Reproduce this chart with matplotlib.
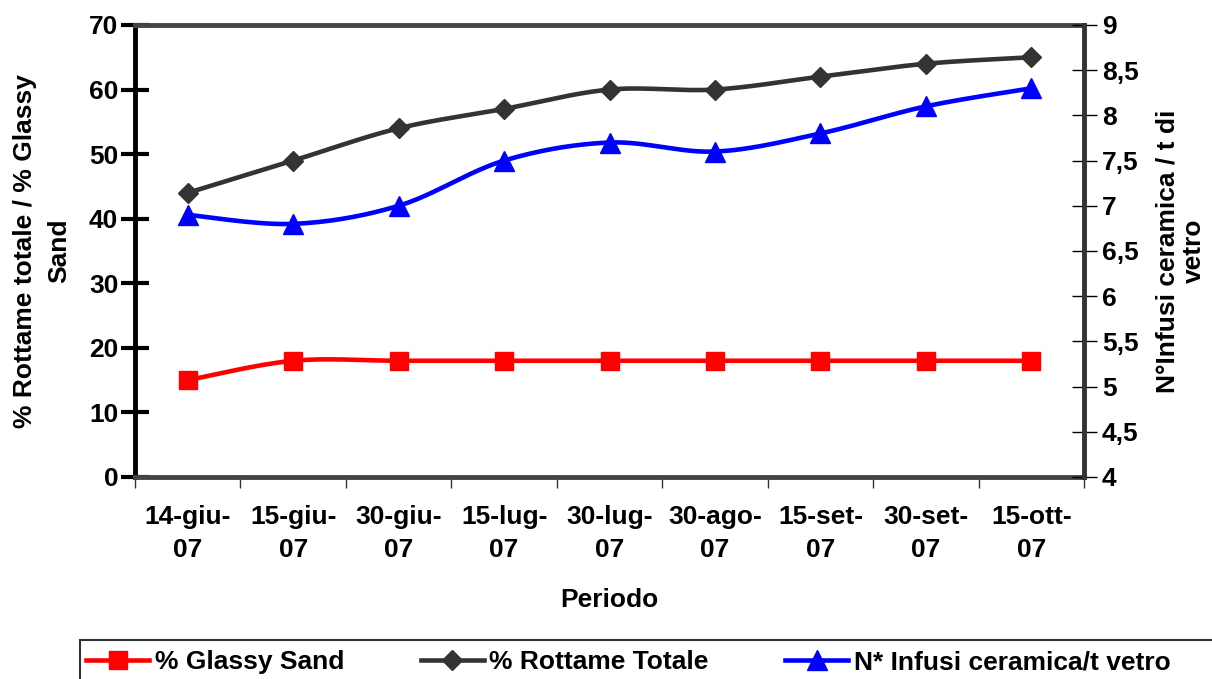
import numpy as np
import matplotlib
matplotlib.use("Agg")
import matplotlib.pyplot as plt
from matplotlib.lines import Line2D
from matplotlib.patches import Rectangle

plt.rcParams['font.family'] = ['Liberation Sans', 'DejaVu Sans']
plt.rcParams['font.weight'] = 'bold'

# dati
periodi = ['14-giu-\n07', '15-giu-\n07', '30-giu-\n07', '15-lug-\n07', '30-lug-\n07',
           '30-ago-\n07', '15-set-\n07', '30-set-\n07', '15-ott-\n07']
glassy_sand = [15, 18, 18, 18, 18, 18, 18, 18, 18]
rottame_totale = [44, 49, 54, 57, 60, 60, 62, 64, 65]
infusi = [6.9, 6.8, 7.0, 7.5, 7.7, 7.6, 7.8, 8.1, 8.3]


def smooth(x, y, n=30):
    # curva liscia tipo Excel (Catmull-Rom)
    x = np.asarray(x, float)
    y = np.asarray(y, float)
    px = np.concatenate([[x[0]], x, [x[-1]]])
    py = np.concatenate([[y[0]], y, [y[-1]]])
    xs, ys = [], []
    t = np.linspace(0, 1, n)
    for i in range(1, len(px) - 2):
        p0, p1, p2, p3 = px[i - 1], px[i], px[i + 1], px[i + 2]
        q0, q1, q2, q3 = py[i - 1], py[i], py[i + 1], py[i + 2]
        c1x, c1y = p1 + (p2 - p0) / 6, q1 + (q2 - q0) / 6
        c2x, c2y = p2 - (p3 - p1) / 6, q2 - (q3 - q1) / 6
        bx = (1 - t) ** 3 * p1 + 3 * (1 - t) ** 2 * t * c1x + 3 * (1 - t) * t ** 2 * c2x + t ** 3 * p2
        by = (1 - t) ** 3 * q1 + 3 * (1 - t) ** 2 * t * c1y + 3 * (1 - t) * t ** 2 * c2y + t ** 3 * q2
        xs.extend(bx)
        ys.extend(by)
    return np.array(xs), np.array(ys)


FS = 19
fig = plt.figure(figsize=(12.12, 6.79), dpi=100)
ax = fig.add_axes([0.1114, 0.2975, 0.7830, 0.6657])
ax2 = ax.twinx()

x = np.arange(len(periodi))
red, grey, blue = '#FF0000', '#333333', '#0000FF'
LW = 3.3

sx, sy = smooth(x, glassy_sand)
ax.plot(sx, sy, color=red, lw=LW, zorder=3)
ax.plot(x, glassy_sand, 's', color=red, ms=13, zorder=4)
sx, sy = smooth(x, rottame_totale)
ax.plot(sx, sy, color=grey, lw=LW, zorder=3)
ax.plot(x, rottame_totale, 'D', color=grey, ms=10.5, zorder=4)
sx, sy = smooth(x, infusi)
ax2.plot(sx, sy, color=blue, lw=LW, zorder=3)
ax2.plot(x, infusi, '^', color=blue, ms=15, zorder=4)

ax.set_xlim(-0.5, len(periodi) - 0.5)
ax.set_ylim(0, 70)
ax2.set_ylim(4, 9)
ax.set_yticks(range(0, 71, 10))
ax2.set_yticks(np.arange(4, 9.01, 0.5))
ax2.set_yticklabels([('%g' % v).replace('.', ',') for v in np.arange(4, 9.01, 0.5)])

ax.set_xticks(x)
ax.set_xticklabels(periodi, linespacing=1.47)
ax.set_xticks(np.arange(-0.5, len(periodi)), minor=True)
ax.tick_params(axis='x', which='major', length=0, pad=20, labelsize=FS)
ax.tick_params(axis='x', which='minor', length=8, width=1, direction='out', color='#333333')
ax.tick_params(axis='y', direction='inout', length=20, width=3, labelsize=FS, pad=2)
ax2.tick_params(axis='y', direction='inout', length=18, width=1, labelsize=FS, pad=4)

for s in ['top', 'bottom']:
    ax.spines[s].set_color('#444444')
    ax.spines[s].set_linewidth(3.5)
ax.spines['left'].set_linewidth(3.5)
ax2.spines['right'].set_color('#333333')
ax2.spines['right'].set_linewidth(3.5)
for s in ['left', 'top', 'bottom']:
    ax2.spines[s].set_visible(False)

ax.set_ylabel('% Rottame totale / % Glassy\nSand', fontsize=FS, fontweight='bold',
              labelpad=13, linespacing=1.52)
ax2.set_ylabel('N°Infusi ceramica / t di\nvetro', fontsize=FS, fontweight='bold',
               labelpad=12, linespacing=1.13)
ax.set_xlabel('Periodo', fontsize=FS, fontweight='bold', labelpad=19)

# legenda
fig.patches.append(Rectangle((80 / 1212, -0.05), 1.0, 0.05 + 39 / 679,
                             transform=fig.transFigure, fill=False,
                             edgecolor='#333333', lw=1.5, clip_on=False))
handles = [
    Line2D([], [], color=red, lw=LW, marker='s', ms=13),
    Line2D([], [], color=grey, lw=LW, marker='D', ms=10.5),
    Line2D([], [], color=blue, lw=LW, marker='^', ms=15),
]
labels = ['% Glassy Sand', '% Rottame Totale', 'N* Infusi ceramica/t vetro']
fig.legend(handles, labels, ncol=3, loc='center left',
           bbox_to_anchor=(86 / 1212, 17 / 679), borderaxespad=0, frameon=False,
           fontsize=FS, handlelength=2.4, handletextpad=0.2, columnspacing=2.9,
           borderpad=0)

fig.savefig('out.png', dpi=100)
